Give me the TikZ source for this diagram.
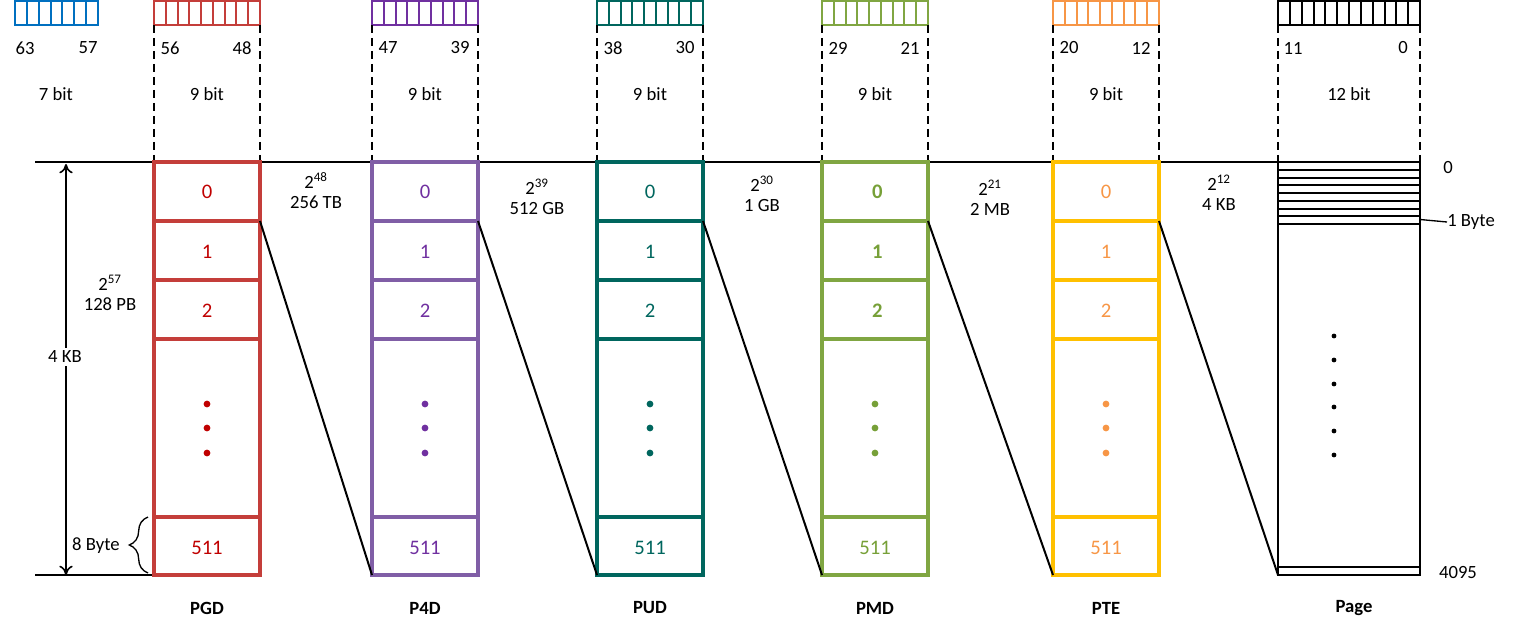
\documentclass[tikz,border=0pt]{standalone}
\usepackage{fontspec}
\setmainfont{Carlito}
\usetikzlibrary{decorations.pathreplacing,arrows.meta}
\definecolor{cBlue}{RGB}{0,112,192}
\definecolor{cPGDbox}{RGB}{196,62,58}
\definecolor{cPGDtxt}{RGB}{192,0,0}
\definecolor{cPFDbox}{RGB}{128,94,166}
\definecolor{cPFDtxt}{RGB}{112,48,160}
\definecolor{cPFDbit}{RGB}{112,48,160}
\definecolor{cPUDbox}{RGB}{0,102,94}
\definecolor{cPUDtxt}{RGB}{0,102,94}
\definecolor{cPMDbox}{RGB}{128,166,66}
\definecolor{cPMDtxt}{RGB}{119,160,56}
\definecolor{cPTEbox}{RGB}{255,192,0}
\definecolor{cPTEtxt}{RGB}{247,150,70}
\tikzset{
  lbl/.style={font=\fontsize{14}{16}\selectfont, inner sep=0pt},
  numlbl/.style={font=\fontsize{15.5}{17}\selectfont, inner sep=0pt},
  ttl/.style={font=\fontsize{14}{16}\selectfont\bfseries, inner sep=0pt},
  boxline/.style={line width=3pt},
  bitline/.style={line width=1.5pt},
  guide/.style={line width=1.5pt, dash pattern=on 6pt off 3.75pt},
  diag/.style={line width=1.5pt},
  axis/.style={line width=1.5pt},
}
% #1 name, #2 left x, #3 box colour, #4 text colour, #5 font extra, #6 title, #7 hi bit, #8 lo bit, #9 bitfield colour
\newcommand\ptcolumn[9]{%
  \begin{scope}[shift={(#2,0)}]
    \draw[bitline, draw=#9] (0,1) rectangle (106,25);
    \foreach \i in {1,...,8} \draw[bitline, draw=#9] ({\i*106/9},1) -- ({\i*106/9},25);
    \draw[guide] (0,25) -- (0,162);
    \draw[guide] (106,25) -- (106,162);
    \node[lbl] (#1-hi) at (16,48) {#7};
    \node[lbl] (#1-lo) at (88,48) {#8};
    \node[lbl] (#1-w) at (53,94) {9 bit};
    \draw[boxline, draw=#3] (0,162) rectangle (106,575);
    \foreach \yy in {221,280,339,517} \draw[boxline, draw=#3] (0,\yy) -- (106,\yy);
    \node[numlbl, text=#4] (#1-r0) at (53,192) {#5 0};
    \node[numlbl, text=#4] (#1-r1) at (53,252) {#5 1};
    \node[numlbl, text=#4] (#1-r2) at (53,311) {#5 2};
    \node[numlbl, text=#4] (#1-r511) at (53,548) {511};
    \fill[#4] (53,404) circle (3.4);
    \fill[#4] (53,428) circle (3.4);
    \fill[#4] (53,453) circle (3.4);
    \node[ttl] (#1-t) at (53,608) {#6};
    \coordinate (#1-tr) at (106,221);
    \coordinate (#1-bl) at (0,575);
  \end{scope}}
\begin{document}
\begin{tikzpicture}[x=0.75pt,y=-0.75pt]
\useasboundingbox (0,0) rectangle (1513,631);
% base lines
\draw[axis] (35,162) -- (1420,162);
\draw[axis] (35,575) -- (154,575);
% blue field
\draw[bitline, draw=cBlue] (15,1) rectangle (98,25);
\foreach \i in {1,...,6} \draw[bitline, draw=cBlue] ({15+\i*83/7},1) -- ({15+\i*83/7},25);
\node[lbl] (b63) at (25,48) {63};
\node[lbl] (b57) at (88,48) {57};
\node[lbl] (b7) at (56,94) {7 bit};
% columns
\ptcolumn{pgd}{154}{cPGDbox}{cPGDtxt}{}{PGD}{56}{48}{cPGDbox}
\ptcolumn{pfd}{372}{cPFDbox}{cPFDtxt}{}{P4D}{47}{39}{cPFDbit}
\ptcolumn{pud}{597}{cPUDbox}{cPUDtxt}{}{PUD}{38}{30}{cPUDbox}
\ptcolumn{pmd}{822}{cPMDbox}{cPMDtxt}{\bfseries}{PMD}{29}{21}{cPMDbox}
\ptcolumn{pte}{1053}{cPTEbox}{cPTEtxt}{}{PTE}{20}{12}{cPTEtxt}
% page
\draw[bitline] (1278,1) rectangle (1420,25);
\foreach \i in {1,...,11} \draw[bitline] ({1278+\i*142/12},1) -- ({1278+\i*142/12},25);
\draw[guide] (1278,25) -- (1278,162);
\draw[guide] (1420,25) -- (1420,162);
\node[lbl] (p11) at (1293,48) {11};
\node[lbl] (p0) at (1403,48) {0};
\node[lbl] (p12) at (1349,94) {12 bit};
\draw[axis] (1278,162) rectangle (1420,575);
\foreach \yy in {170,177.8,185.5,193.2,200.9,208.6,216.3,224,567} \draw[axis] (1278,\yy) -- (1420,\yy);
\foreach \yy in {336,360,384,407,431,455} \fill (1334,\yy) circle (2.4);
\coordinate (page-bl) at (1278,575);
\coordinate (page-byte) at (1420,219.5);
\node[lbl, anchor=west] (onebyte) at (1447,222) {1 Byte};
\draw[line width=1pt] (page-byte) -- (onebyte.west);
\node[lbl] (pzero) at (1448,168) {0};
\node[lbl] (p4095) at (1458,573) {4095};
\node[ttl] (pagettl) at (1354,608) {Page};
% diagonals
\draw[diag] (pgd-tr) -- (pfd-bl);
\draw[diag] (pfd-tr) -- (pud-bl);
\draw[diag] (pud-tr) -- (pmd-bl);
\draw[diag] (pmd-tr) -- (pte-bl);
\draw[diag] (pte-tr) -- (page-bl);
% between labels
\node[lbl, align=center] (s48) at (316,191) {2\textsuperscript{48}\\[-1pt]256 TB};
\node[lbl, align=center] (s39) at (537,197) {2\textsuperscript{39}\\[-1pt]512 GB};
\node[lbl, align=center] (s30) at (762,194) {2\textsuperscript{30}\\[-1pt]1 GB};
\node[lbl, align=center] (s21) at (990,198) {2\textsuperscript{21}\\[-1pt]2 MB};
\node[lbl, align=center] (s12) at (1219,193) {2\textsuperscript{12}\\[-1pt]4 KB};
% left annotations
\coordinate (arrtop) at (66,164);
\coordinate (arrbot) at (66,575);
\draw[line width=1.2pt, {To[length=7pt,width=10pt]}-{To[length=7pt,width=10pt]}] (arrtop) -- (arrbot);
\node[lbl, fill=white, inner sep=2pt] (kb4) at (65,357) {4 KB};
\node[lbl, align=center] (s57) at (110,293) {2\textsuperscript{57}\\[-1pt]128 PB};
\coordinate (brb) at (148,573);
\coordinate (brt) at (148,517);
\draw[line width=1pt, decorate, decoration={brace, amplitude=14pt}] (brb) -- (brt);
\node[lbl, anchor=east] (b8) at (120,546) {8 Byte};
\end{tikzpicture}
\end{document}
